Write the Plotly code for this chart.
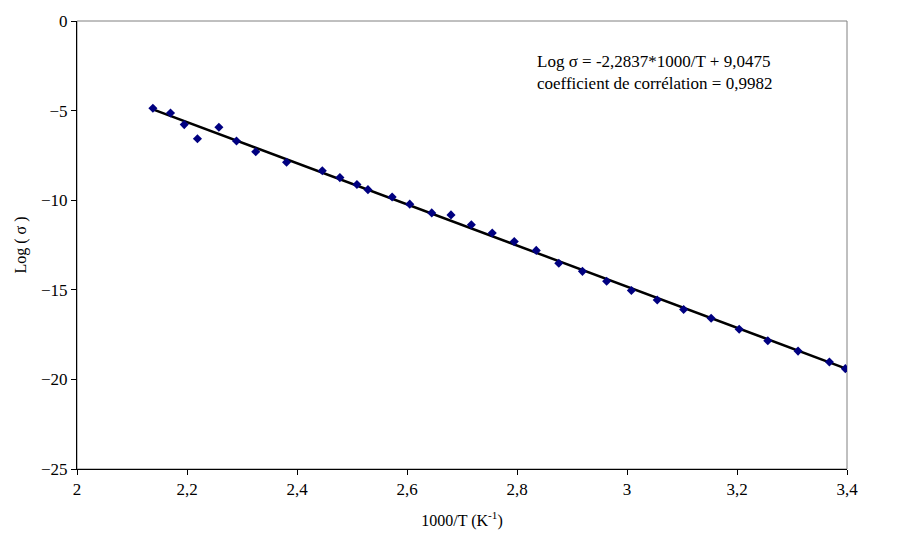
import numpy as np
import plotly.graph_objects as go

inv_T = [2.138, 2.170, 2.195, 2.219, 2.258, 2.290, 2.325, 2.381, 2.446, 2.478,
         2.509, 2.529, 2.573, 2.605, 2.645, 2.680, 2.717, 2.755, 2.795, 2.835,
         2.876, 2.919, 2.963, 3.008, 3.055, 3.103, 3.153, 3.204, 3.256, 3.311,
         3.368, 3.397]
log_sigma = [-4.87, -5.13, -5.78, -6.57, -5.93, -6.70, -7.30, -7.88, -8.36, -8.74,
             -9.12, -9.41, -9.82, -10.22, -10.71, -10.82, -11.37, -11.83, -12.31, -12.80,
             -13.52, -13.97, -14.52, -15.04, -15.57, -16.10, -16.59, -17.20, -17.84, -18.42,
             -19.03, -19.40]

x_ticks = [2, 2.2, 2.4, 2.6, 2.8, 3, 3.2, 3.4]
y_ticks = [0, -5, -10, -15, -20, -25]
eq_text = "Log σ = -2,2837*1000/T + 9,0475"
corr_text = "coefficient de corrélation = 0,9982"

slope, intercept = np.polyfit(inv_T, log_sigma, 1)
fit_x = [min(inv_T), max(inv_T)]
fit_y = [slope * v + intercept for v in fit_x]

FONT = "Liberation Serif, Times New Roman, serif"

fig = go.Figure()
fig.add_trace(go.Scatter(x=fit_x, y=fit_y, mode="lines",
                         line=dict(color="black", width=2.5), showlegend=False))
fig.add_trace(go.Scatter(x=inv_T, y=log_sigma, mode="markers",
                         marker=dict(symbol="diamond", size=7, color="#000080"),
                         showlegend=False))

fig.add_annotation(xref="paper", yref="paper", x=0.595, y=0.935, xanchor="left", yanchor="top",
                   text=eq_text + "<br>" + corr_text, showarrow=False, align="left",
                   font=dict(family=FONT, size=17, color="black"))

fig.update_layout(
    width=900, height=549,
    margin=dict(l=77, r=53, t=14, b=80),
    paper_bgcolor="white", plot_bgcolor="white",
    separators=", ",
    font=dict(family=FONT, size=17, color="black"),
    shapes=[dict(type="rect", xref="paper", yref="paper", x0=0, y0=0, x1=1, y1=1,
                 line=dict(color="#808080", width=1), layer="below")],
)
fig.update_xaxes(range=[2, 3.4], tickvals=x_ticks, showgrid=False, zeroline=False,
                 showline=True, linecolor="black", linewidth=1,
                 ticks="outside", ticklen=5, tickcolor="black",
                 title=dict(text="1000/T (K<sup>-1</sup>)", standoff=16, font=dict(size=16)))
fig.update_yaxes(range=[-25, 0], tickvals=y_ticks, showgrid=False, zeroline=False,
                 showline=True, linecolor="black", linewidth=1,
                 ticks="outside", ticklen=5, tickcolor="black",
                 title=dict(text="Log ( σ )", standoff=10, font=dict(size=16)))

fig.write_html("out.html")
